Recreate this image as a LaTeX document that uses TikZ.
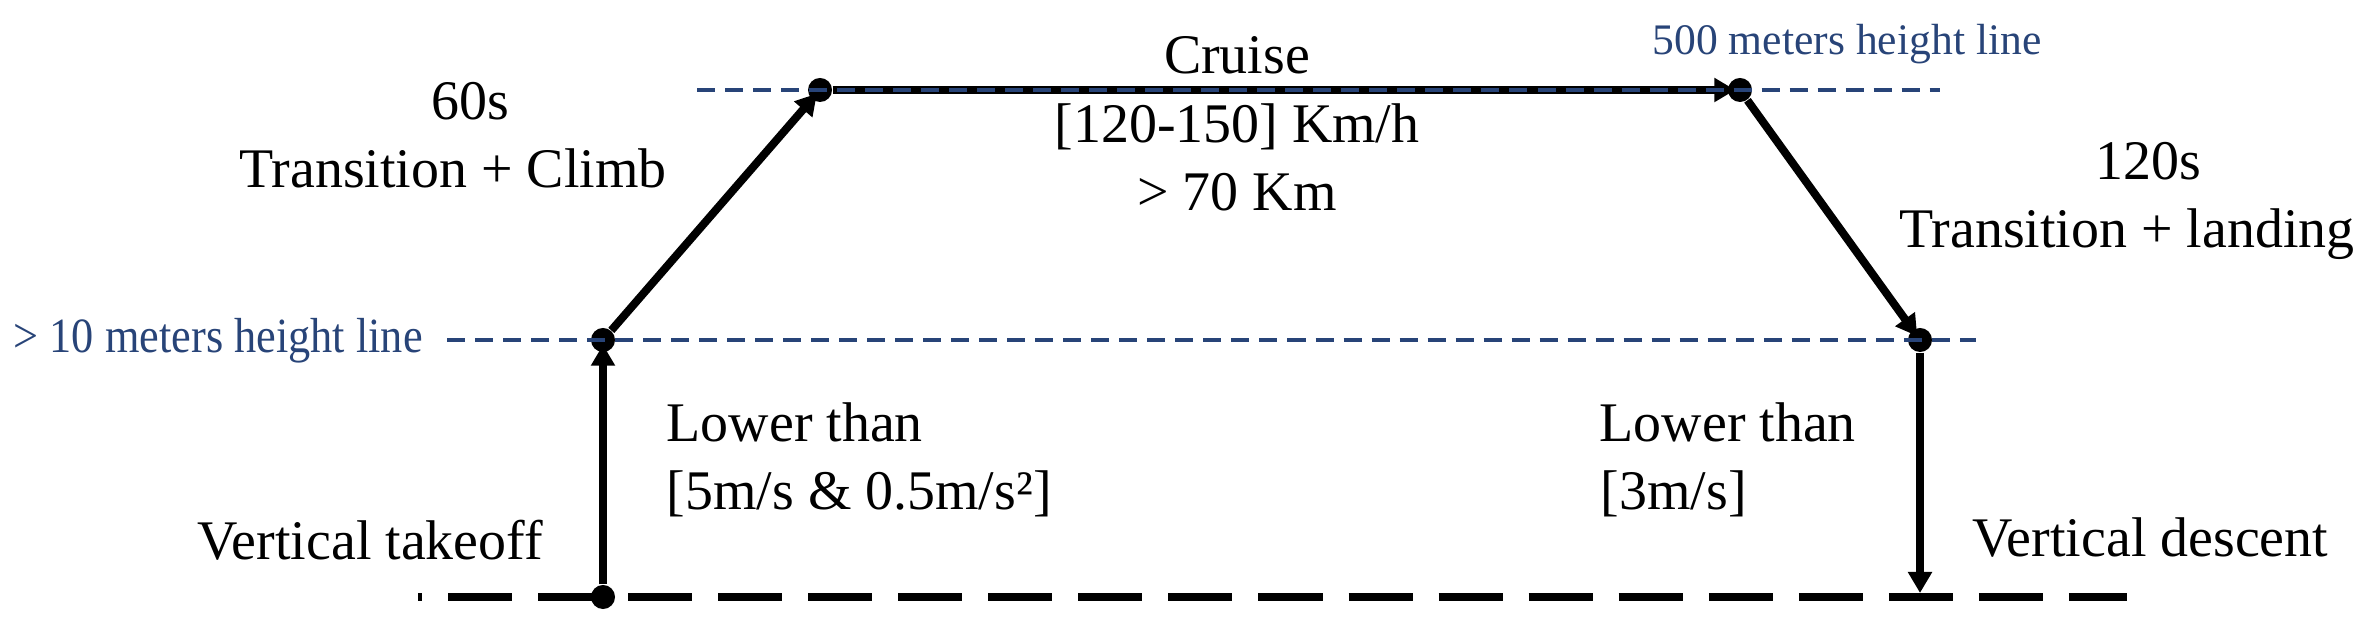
\documentclass[tikz,border=0pt]{standalone}
\usepackage{fontspec}
\usepackage{graphicx}
\setmainfont{Liberation Serif}
\usetikzlibrary{arrows.meta}
\definecolor{hblue}{RGB}{40,68,120}
\begin{document}
\begin{tikzpicture}[x=0.01cm, y=-0.01cm,
  pt/.style={circle, minimum size=0.24cm, inner sep=0pt, draw=none},
  traj/.style={line width=0.08cm, -{Triangle[length=0.21cm,width=0.23cm]}, shorten >=-0.08cm},
  hline/.style={draw=hblue, line width=0.042cm, dash pattern=on 0.18cm off 0.10cm},
  ground/.style={line width=0.085cm, dash pattern=on 0.64cm off 0.26cm, dash phase=0.60cm},
  lbl/.style={font=\fontsize{15.9}{19}\selectfont, inner sep=0pt, text=black},
  blbl/.style={text=hblue, inner sep=0pt}]
\useasboundingbox (0,0) rectangle (2370,622);

% points
\node[pt] (G1) at (603,597) {};
\node[pt] (A) at (603,340) {};
\node[pt] (B) at (820,90) {};
\node[pt] (C) at (1740,90) {};
\node[pt] (D) at (1920,340) {};
\coordinate (E) at (1920,593);
\coordinate (gL) at (418,597);
\coordinate (gR) at (2127,597);
\coordinate (tL) at (697,90);
\coordinate (tR) at (1940,90);
\coordinate (mL) at (447,340);
\coordinate (mR) at (1976,340);

% ground
\draw[ground] (gL) -- (gR);

% trajectory
\draw[traj] (G1) -- (A);
\draw[traj] (A) -- (B);
\draw[traj] (B) -- (C);
\draw[traj] (C) -- (D);
\draw[traj, shorten >=0pt] (D) -- (E);

% dots
\foreach \p in {G1,A,B,C,D} \fill (\p) circle (0.12cm);

% height lines
\draw[hline] (tL) -- (tR);
\draw[hline] (mL) -- (mR);

% labels
\node[lbl, anchor=base] (t60) at (470,120) {60s};
\node[lbl, anchor=base] (tc) at (453,188) {Transition + Climb};
\node[lbl, anchor=base] (cr) at (1237,74) {Cruise};
\node[lbl, anchor=base] (sp) at (1237,143) {[120-150] Km/h};
\node[lbl, anchor=base] (ds) at (1237,211) {> 70 Km};
\node[lbl, anchor=base] (t120) at (2148,180) {120s};
\node[lbl, anchor=base] (tl) at (2127,248) {Transition + landing};
\node[lbl, anchor=base west] (lw1) at (666,442) {Lower than};
\node[lbl, anchor=base west] (lw2) at (666,510) {[5m/s \& 0.5m/s²]};
\node[lbl, anchor=base west] (vt) at (197,560) {Vertical takeoff};
\node[lbl, anchor=base west] (rw1) at (1599,442) {Lower than};
\node[lbl, anchor=base west] (rw2) at (1600,510) {[3m/s]};
\node[lbl, anchor=base west] (vd) at (1972,557) {Vertical descent};
\node[blbl, anchor=base, font=\fontsize{12.4}{15}\selectfont] (h500) at (1847,55) {500 meters height line};
\node[blbl, anchor=base west, font=\fontsize{14}{17}\selectfont] (h10) at (13,353) {\scalebox{0.9}[1]{> 10 meters height line}};
\end{tikzpicture}
\end{document}
